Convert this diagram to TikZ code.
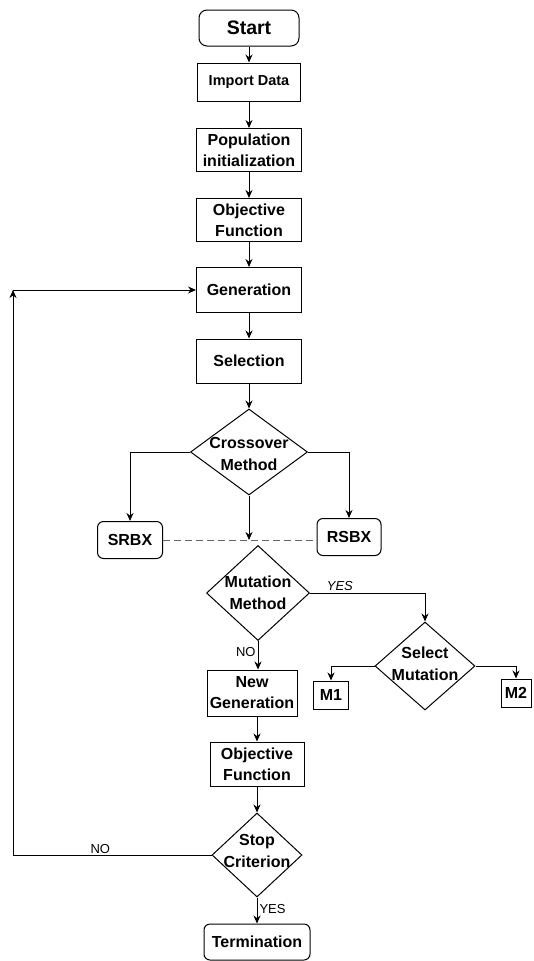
\documentclass[tikz,border=0pt]{standalone}
\usepackage{fontspec}
\setmainfont{Liberation Sans}
\usetikzlibrary{arrows.meta,positioning,shapes.geometric}

\begin{document}
\begin{tikzpicture}[
  x=1pt, y=-1pt,
  line width=1pt,
  blk/.style={draw, align=center, inner sep=2pt, font=\fontsize{16}{21}\selectfont\bfseries},
  rblk/.style={blk, rounded corners=6pt},
  dia/.style={draw, diamond, inner sep=0pt},
  dtxt/.style={align=center, inner sep=0pt, font=\fontsize{16}{22}\selectfont\bfseries},
  arr/.style={-{Stealth[length=8pt,width=7pt]}},
  lab/.style={inner sep=2pt, font=\fontsize{13}{15}\selectfont},
]
\useasboundingbox (0,0) rectangle (534,961);

% main column
\node[rblk, rounded corners=8pt, minimum width=100pt, minimum height=36pt, font=\fontsize{19.5}{22}\selectfont\bfseries] (start) at (249,28) {Start};
\node[blk, minimum width=103pt, minimum height=38pt, font=\fontsize{14.5}{17}\selectfont\bfseries] (imp) at (249,82) {Import Data};
\node[blk, minimum width=105pt, minimum height=43pt] (pop) at (249,150) {Population\\initialization};
\node[blk, minimum width=105pt, minimum height=43pt] (obj) at (249,220) {Objective\\Function};
\node[blk, minimum width=105pt, minimum height=45pt] (gen) at (249,290) {Generation};
\node[blk, minimum width=105pt, minimum height=44pt] (sel) at (249,361) {Selection};
\node[dia, minimum width=117pt, minimum height=86pt, label={[dtxt, yshift=-2pt]center:Crossover\\Method}] (cross) at (249,452) {};

% crossover operators
\node[rblk, minimum width=65pt, minimum height=37pt] (srbx) at (130,540) {SRBX};
\node[rblk, minimum width=64pt, minimum height=37pt] (rsbx) at (349,537) {RSBX};
\coordinate (xjoin) at (cross.south |- srbx.east);

% mutation
\node[dia, minimum width=103pt, minimum height=95pt, label={[dtxt]center:Mutation\\Method}] (mut) at (258,593) {};
\node[dia, minimum width=100pt, minimum height=88pt, label={[dtxt, yshift=2pt]center:Select\\Mutation}] (smut) at (425,666) {};
\node[blk, minimum width=35pt, minimum height=28pt] (m1) at (331,695) {M1};
\node[blk, minimum width=30pt, minimum height=28pt] (m2) at (516,693) {M2};

% lower column
\node[blk, minimum width=90pt, minimum height=46pt] (newgen) at (252,693) {New\\Generation};
\node[blk, minimum width=94pt, minimum height=44pt] (obj2) at (257,764) {Objective\\Function};
\node[dia, minimum width=90pt, minimum height=84pt, label={[dtxt, yshift=4pt]center:Stop\\Criterion}] (stop) at (257,855) {};
\node[rblk, minimum width=106pt, minimum height=36pt] (term) at (257,942) {Termination};
\coordinate (back) at (13,290);

\draw[arr] (start) -- (imp);
\draw[arr] (imp) -- (pop);
\draw[arr] (pop) -- (obj);
\draw[arr] (obj) -- (gen);
\draw[arr] (gen) -- (sel);
\draw[arr] (sel) -- (cross);

\draw[arr] (cross.west) -| (srbx.north);
\draw[arr] (cross.east) -| (rsbx.north);
\draw[arr] (cross.south) -- (xjoin);
\draw[black!60, dash pattern={on 7pt off 4pt}] (srbx.east) -- (xjoin) -- (xjoin -| rsbx.west);

\draw[arr] (mut.east) -| node[lab, pos=0.13, above, font=\fontsize{13}{15}\selectfont\itshape] {YES} (smut.north);
\draw[arr] (mut.south) -- node[lab, left, pos=0.4] {NO} (mut.south |- newgen.north);
\draw[arr] (smut.west) -| (m1.north);
\draw[arr] (smut.east) -| (m2.north);

\draw[arr] (obj2.north |- newgen.south) -- (obj2.north);
\draw[arr] (obj2) -- (stop);
\draw[arr] (stop) -- node[lab, right, pos=0.45] {YES} (term);

% loop back
\draw[arr] (stop.west) -| node[lab, pos=0.28, above, inner sep=1pt] {NO} (back);
\draw[arr] (back) -- (gen.west);
\end{tikzpicture}
\end{document}
